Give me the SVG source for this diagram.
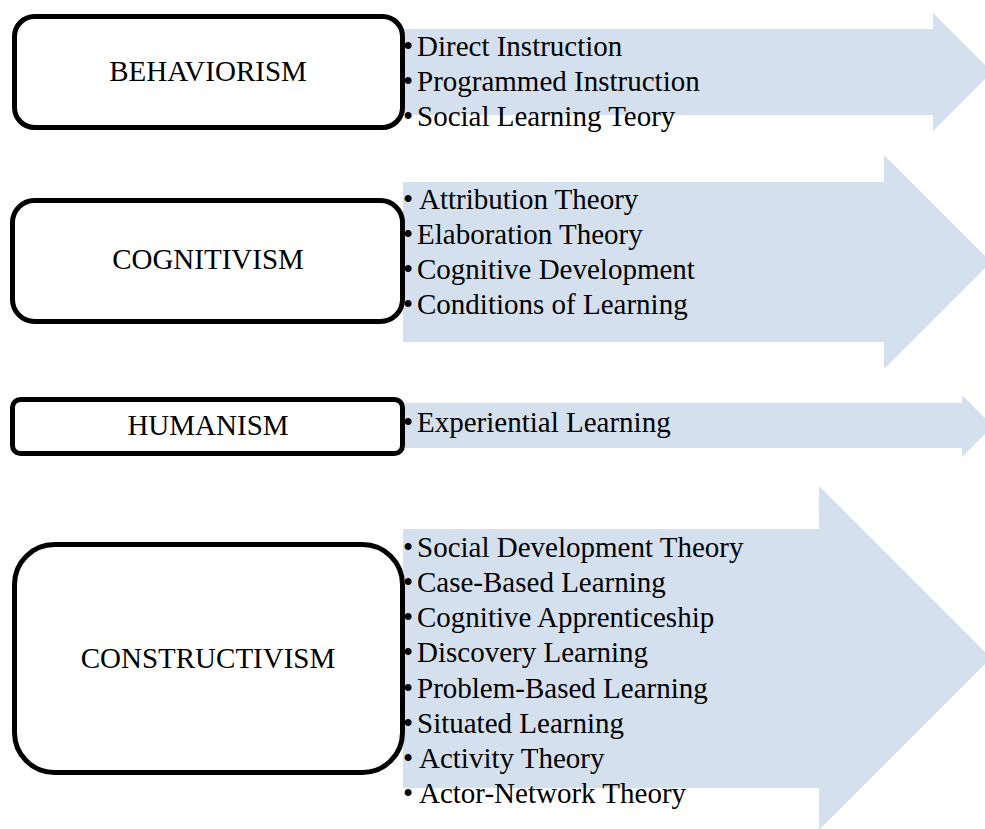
<svg xmlns="http://www.w3.org/2000/svg" width="985" height="829" viewBox="0 0 985 829">
  <style>
    .arrow { fill: #d5e0ee; stroke: none; }
    .box { fill: #ffffff; stroke: #000000; stroke-width: 5; }
    .label { font-family: "Liberation Serif", "Times New Roman", serif; font-size: 29px; fill: #000000; text-anchor: middle; }
    .item { font-family: "Liberation Serif", "Times New Roman", serif; font-size: 29px; fill: #000000; }
  </style>
  <rect width="985" height="829" fill="#ffffff"/>

  <!-- block arrows carrying the theory lists -->
  <g id="connectors">
    <polygon class="arrow" points="403,29 933,29 933,13 992,72 933,131 933,115 403,115"/>
    <polygon class="arrow" points="403,182 884,182 884,155 991,262 884,369 884,342 403,342"/>
    <polygon class="arrow" points="403,403 962,403 962,395 993,426 962,457 962,448 403,448"/>
    <polygon class="arrow" points="403,529 819,529 819,486 991,658 819,830 819,788 403,788"/>
  </g>

  <g id="behaviorism">
    <rect class="box" x="14.5" y="16.5" width="388" height="111" rx="20"/>
    <text class="label" x="208" y="81">BEHAVIORISM</text>
  </g>
  <g id="behaviorism-list">
    <text class="item" x="403" y="56">•<tspan x="417">Direct Instruction</tspan></text>
    <text class="item" x="403" y="91">•<tspan x="417">Programmed Instruction</tspan></text>
    <text class="item" x="403" y="126">•<tspan x="417">Social Learning Teory</tspan></text>
  </g>

  <g id="cognitivism">
    <rect class="box" x="12.5" y="200.5" width="390" height="121" rx="22"/>
    <text class="label" x="208" y="269">COGNITIVISM</text>
  </g>
  <g id="cognitivism-list">
    <text class="item" x="403" y="209">•<tspan x="419">Attribution Theory</tspan></text>
    <text class="item" x="403" y="244">•<tspan x="417">Elaboration Theory</tspan></text>
    <text class="item" x="403" y="279">•<tspan x="417">Cognitive Development</tspan></text>
    <text class="item" x="403" y="314">•<tspan x="417">Conditions of Learning</tspan></text>
  </g>

  <g id="humanism">
    <rect class="box" x="12.5" y="399.5" width="390" height="54" rx="8"/>
    <text class="label" x="208" y="435">HUMANISM</text>
  </g>
  <g id="humanism-list">
    <text class="item" x="403" y="432">•<tspan x="417">Experiential Learning</tspan></text>
  </g>

  <g id="constructivism">
    <rect class="box" x="14.5" y="544.5" width="388" height="228" rx="40"/>
    <text class="label" x="208" y="668">CONSTRUCTIVISM</text>
  </g>
  <g id="constructivism-list">
    <text class="item" x="403" y="557">•<tspan x="417">Social Development Theory</tspan></text>
    <text class="item" x="403" y="592">•<tspan x="417">Case-Based Learning</tspan></text>
    <text class="item" x="403" y="627">•<tspan x="417">Cognitive Apprenticeship</tspan></text>
    <text class="item" x="403" y="662">•<tspan x="417">Discovery Learning</tspan></text>
    <text class="item" x="403" y="698">•<tspan x="417">Problem-Based Learning</tspan></text>
    <text class="item" x="403" y="733">•<tspan x="417">Situated Learning</tspan></text>
    <text class="item" x="403" y="768">•<tspan x="419">Activity Theory</tspan></text>
    <text class="item" x="403" y="803">•<tspan x="419">Actor-Network Theory</tspan></text>
  </g>
</svg>
